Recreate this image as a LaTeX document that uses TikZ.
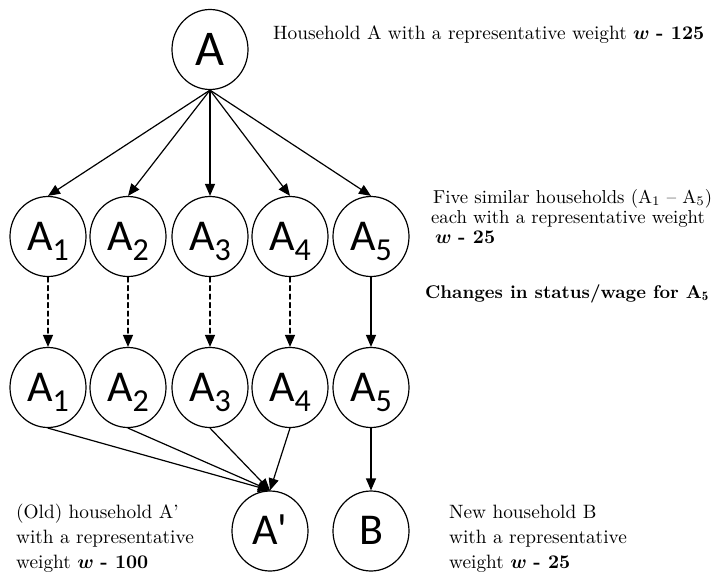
\documentclass[tikz,border=0pt]{standalone}
\usepackage{amsmath,amssymb}
\usepackage{fontspec}
\newfontfamily\calib{Carlito}
\usetikzlibrary{arrows.meta,shapes.geometric}
\newcommand{\hsub}[1]{A\raisebox{-10.5pt}{\fontsize{32}{32}\selectfont #1}}
\newcommand{\wt}[1]{$\boldsymbol{w}$ \textbf{- #1}}
\tikzset{
  hh/.style={draw,ellipse,minimum width=76pt,minimum height=80pt,inner sep=0pt,
    text height=27.8pt,text depth=0pt,font=\calib\fontsize{44}{44}\selectfont},
  lab/.style={anchor=base west,inner sep=0pt,scale=1.93,transform shape,
    font=\fontsize{10}{12}\selectfont}
}
\begin{document}
\begin{tikzpicture}[line cap=round,line join=round,>={Triangle[length=12pt,width=10pt]},x=1.0pt,y=-1.0pt,line width=1.2pt]
\useasboundingbox (0,0) rectangle (717,573);
\node[hh,text height=31.6pt,font=\calib\fontsize{50}{50}\selectfont] (A) at (210,49.5) {A};
\foreach \i/\x in {1/48,2/128,3/210,4/290,5/371}
{
\node[hh] (a\i) at (\x,236.5) {\hsub{\i}};
\node[hh] (b\i) at (\x,387.5) {\hsub{\i}};
\draw[->] (A.south) -- (a\i.north);
}
\foreach \i in {1,2,3,4}
{
\draw[->,dash pattern=on 5pt off 3.5pt] (a\i.south) -- (b\i.north);
}
\node[hh] (Ap) at (270,531) {A'};
\node[hh] (B) at (371,531) {B};
\draw[->] (a5.south) -- (b5.north);
\foreach \i in {1,2,3,4}
\draw[->] (b\i.south) -- (Ap.north);
\draw[->] (b5.south) -- (B.north);
\node[lab] (tA) at (272,39) {Household A with a representative weight \wt{125}};
\node[lab,scale=0.97] (tf1) at (432,203) {Five similar households (A$_1$ -- A$_5$)};
\node[lab,scale=0.97] (tf2) at (430,223) {each with a representative weight};
\node[lab] (tf3) at (434,243) {\wt{25}};
\node[lab,scale=0.955,font=\bfseries\fontsize{10}{12}\selectfont] (tc) at (424,298) {Changes in status/wage for A$_{\mathbf{5}}$};
\node[lab] (to1) at (15,518) {(Old) household A'};
\node[lab] (to2) at (15,543) {with a representative};
\node[lab] (to3) at (15,568) {weight \wt{100}};
\node[lab] (tn1) at (448,518) {New household B};
\node[lab] (tn2) at (448,543) {with a representative};
\node[lab] (tn3) at (448,568) {weight \wt{25}};
\end{tikzpicture}
\end{document}
